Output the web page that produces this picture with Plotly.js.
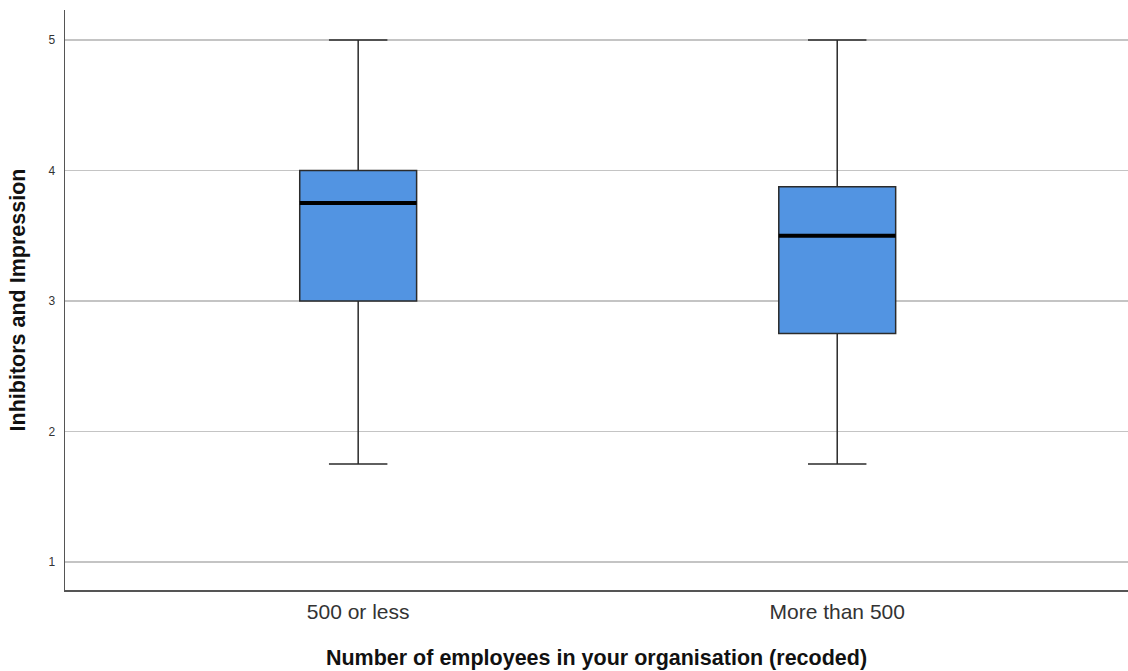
<!DOCTYPE html>
<html>
<head>
<meta charset="utf-8">
<script src="https://cdn.plot.ly/plotly-3.0.1.min.js"></script>
<style>
  html, body { margin: 0; padding: 0; background: #fff; }
  #chart { width: 1128px; height: 671px; }
</style>
</head>
<body>
<div id="chart"></div>
<script>
// Employee-size groups and their five-number summaries
const groups = ["500 or less", "More than 500"];
const lowerWhisker = [1.75, 1.75];
const q1 = [3.0, 2.75];
const median = [3.75, 3.5];
const q3 = [4.0, 3.875];
const upperWhisker = [5.0, 5.0];
const yTicks = [1, 2, 3, 4, 5];

const xPos = groups.map((_, i) => i);
const boxWidth = 0.244;

const boxTrace = {
  type: "box",
  x: xPos,
  q1: q1,
  median: median,
  q3: q3,
  lowerfence: lowerWhisker,
  upperfence: upperWhisker,
  width: boxWidth,
  whiskerwidth: 0.5,
  fillcolor: "#5294e2",
  line: { color: "#2b2b2b", width: 1.5 },
  boxpoints: false,
  hoverinfo: "skip",
  showlegend: false
};

// Heavy median bars drawn over each box
const medianTraces = median.map((m, i) => ({
  type: "scatter",
  mode: "lines",
  x: [xPos[i] - boxWidth / 2, xPos[i] + boxWidth / 2],
  y: [m, m],
  line: { color: "#000", width: 4 },
  hoverinfo: "skip",
  showlegend: false
}));

const layout = {
  width: 1128,
  height: 671,
  margin: { l: 65, r: 0, t: 10, b: 81 },
  paper_bgcolor: "#fff",
  plot_bgcolor: "#fff",
  font: { family: "Liberation Sans, Arial, sans-serif", color: "#222" },
  xaxis: {
    range: [-0.612, 1.607],
    tickvals: xPos,
    ticktext: groups,
    tickfont: { size: 21, color: "#333" },
    ticks: "",
    ticklabelstandoff: 2,
    showgrid: false,
    zeroline: false,
    showline: true,
    linecolor: "#555",
    linewidth: 1.5,
    title: {
      text: "<b>Number of employees in your organisation (recoded)</b>",
      font: { size: 21.5, color: "#111" },
      standoff: 28
    }
  },
  yaxis: {
    range: [0.785, 5.23],
    tickvals: yTicks,
    ticktext: yTicks.map(String),
    tickfont: { size: 12, color: "#333" },
    ticks: "",
    ticklabelstandoff: 6,
    showgrid: true,
    gridcolor: "#c4c4c4",
    gridwidth: 1.2,
    zeroline: false,
    showline: true,
    linecolor: "#555",
    linewidth: 1.5,
    title: {
      text: "<b>Inhibitors and Impression</b>",
      font: { size: 21.5, color: "#111" },
      standoff: 17
    }
  }
};

Plotly.newPlot("chart", [boxTrace, ...medianTraces], layout, { displayModeBar: false, staticPlot: true });
</script>
</body>
</html>
